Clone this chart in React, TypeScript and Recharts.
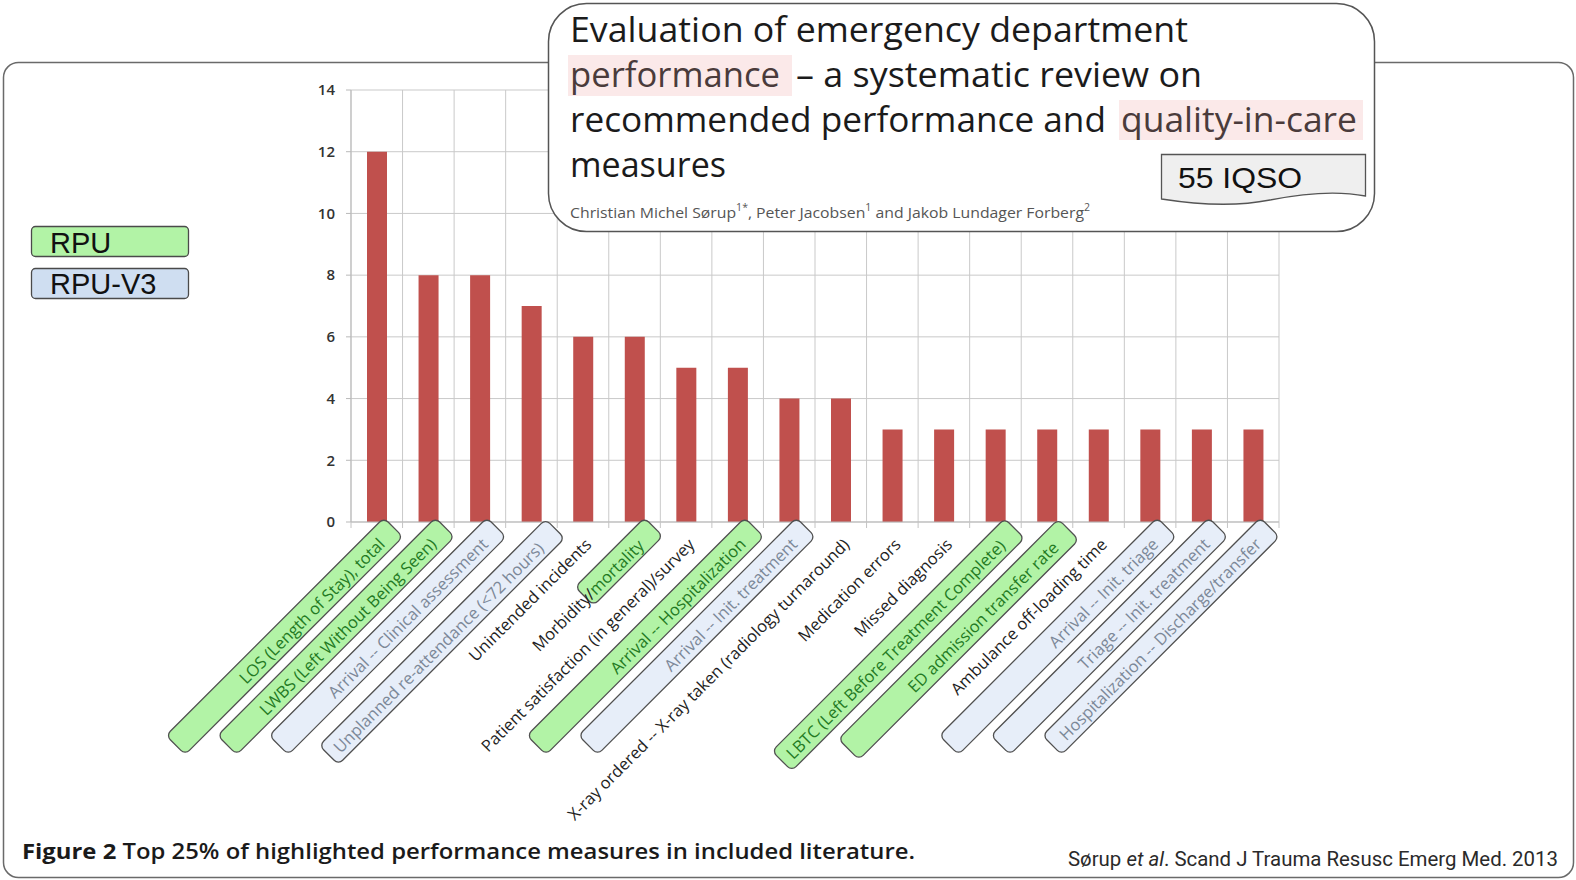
import { Bar, BarChart, CartesianGrid, XAxis, YAxis } from "recharts";

// performance measures, in the order of the bars
const measures = [
  "LOS (Length of Stay), total",
  "LWBS (Left Without Being Seen)",
  "Arrival -- Clinical assessment",
  "Unplanned re-attendance (<72 hours)",
  "Unintended incidents",
  "Morbidity/mortality",
  "Patient satisfaction (in general)/survey",
  "Arrival -- Hospitalization",
  "Arrival -- Init. treatment",
  "X-ray ordered -- X-ray taken (radiology turnaround)",
  "Medication errors",
  "Missed diagnosis",
  "LBTC (Left Before Treatment Complete)",
  "ED admission transfer rate",
  "Ambulance off-loading time",
  "Arrival -- Init. triage",
  "Triage -- Init. treatment",
  "Hospitalization -- Discharge/transfer",
];
const counts = [12, 8, 8, 7, 6, 6, 5, 5, 4, 4, 3, 3, 3, 3, 3, 3, 3, 3];
// which register highlights the measure ("" = none)
const groups = [
  "RPU", "RPU", "RPU-V3", "RPU-V3", "", "RPU", "", "RPU", "RPU-V3",
  "", "", "", "RPU", "RPU", "", "RPU-V3", "RPU-V3", "RPU-V3",
];
const yTicks = [0, 2, 4, 6, 8, 10, 12, 14];
const legendItems = ["RPU", "RPU-V3"];

const data = measures.map((m, i) => ({ measure: m, count: counts[i] }));

const W = 1576;
const H = 880;
const PLOT_LEFT = 351;
const PLOT_RIGHT = 1279;
const BAND = (PLOT_RIGHT - PLOT_LEFT) / measures.length;
const LABEL_FONT = "'Open Sans', sans-serif";

const groupStyle: Record<string, { fill: string; text: string; legend: string }> = {
  RPU: { fill: "#b2f3a6", text: "#237a23", legend: "#b2f3a6" },
  "RPU-V3": { fill: "#e7eef9", text: "#7c8898", legend: "#cfdef1" },
};

// rotated label box, in the label's own frame (u along text, v across)
const BOX = { u0: -300, u1: 8, v0: 2, v1: 29 };
const boxTweaks: Record<number, Partial<typeof BOX>> = {
  3: { u0: -308, u1: 12, v0: 8, v1: 35 },
  5: { u0: -88, u1: 10, v0: 4, v1: 30 },
  12: { u0: -320, u1: 9, v0: 4, v1: 32 },
  13: { u0: -301, u1: 10, v0: 6, v1: 35 },
};

function MeasureTick(props: any) {
  const { x, y, payload } = props;
  const i = measures.indexOf(payload.value);
  const group = groups[i];
  const st = group ? groupStyle[group] : null;
  const b = { ...BOX, ...(boxTweaks[i] || {}) };
  const vc = group ? (b.v0 + b.v1) / 2 + 1 : 17;
  const isMorbidity = i === 5;
  return (
    <g>
      <line x1={x - BAND / 2} x2={x - BAND / 2} y1={y} y2={y + 6} stroke="#c4c4c4" />
      {i === measures.length - 1 && (
        <line x1={x + BAND / 2} x2={x + BAND / 2} y1={y} y2={y + 6} stroke="#c4c4c4" />
      )}
      <g transform={`translate(${x},${y}) rotate(-45)`}>
        {st && (
          <rect
            x={b.u0}
            y={b.v0}
            width={b.u1 - b.u0}
            height={b.v1 - b.v0}
            rx={6}
            fill={st.fill}
            stroke="#505050"
            strokeWidth={1.3}
          />
        )}
        <text
          x={-10}
          y={vc}
          textAnchor="end"
          dominantBaseline="central"
          fontFamily={LABEL_FONT}
          fontSize={16.5}
          fill={st && !isMorbidity ? st.text : "#1e1e1e"}
        >
          {isMorbidity ? (
            <>
              <tspan>Morbidity/</tspan>
              <tspan fill={groupStyle.RPU.text}>mortality</tspan>
            </>
          ) : (
            payload.value
          )}
        </text>
      </g>
    </g>
  );
}

export default function App() {
  return (
    <div style={{ position: "absolute", left: 0, top: 0, width: W, height: H, background: "#fff" }}>
      <svg width={W} height={H} style={{ position: "absolute", left: 0, top: 0 }}>
        <rect x={3.5} y={62.5} width={1570} height={815} rx={15} fill="#fff" stroke="#6a6a6a" strokeWidth={1.5} />
      </svg>

      <div style={{ position: "absolute", left: 0, top: 0 }}>
        <BarChart
          width={W}
          height={H}
          data={data}
          margin={{ top: 90, right: W - PLOT_RIGHT, bottom: 8, left: PLOT_LEFT - 50 }}
        >
          <CartesianGrid
            stroke="#c9c9c9"
            verticalCoordinatesGenerator={({ offset }: any) =>
              Array.from({ length: measures.length + 1 }, (_, k) => offset.left + (k * offset.width) / measures.length)
            }
          />
          <XAxis
            dataKey="measure"
            interval={0}
            height={350}
            tickSize={0}
            tickMargin={0}
            axisLine={{ stroke: "#b9b9b9" }}
            tickLine={false}
            tick={<MeasureTick />}
          />
          <YAxis
            width={50}
            domain={[0, 14]}
            ticks={yTicks}
            tickSize={5}
            tickMargin={11}
            axisLine={{ stroke: "#b9b9b9" }}
            tickLine={{ stroke: "#b9b9b9" }}
            tick={{ fontFamily: LABEL_FONT, fontSize: 15, fill: "#333", fontWeight: 600 }}
          />
          <Bar dataKey="count" fill="#c0504d" barSize={20} isAnimationActive={false} />
        </BarChart>
      </div>

      <svg width={W} height={H} style={{ position: "absolute", left: 0, top: 0, pointerEvents: "none" }}>
        {/* paper title box */}
        <rect x={548.5} y={3.5} width={826} height={228} rx={38} fill="#fff" stroke="#555" strokeWidth={1.5} />
        <rect x={568} y={55} width={224} height={41} fill="#fbe9e9" />
        <rect x={1119} y={100} width={244} height={40} fill="#fbe9e9" />
        <g fontFamily={LABEL_FONT} fontSize={34} fill="#1b1b1b">
          <text x={570} y={42} textLength={618} lengthAdjust="spacingAndGlyphs">
            Evaluation of emergency department
          </text>
          <text x={570} y={87} textLength={210} lengthAdjust="spacingAndGlyphs" fill="#4a3b3b">
            performance
          </text>
          <text x={796} y={87} textLength={406} lengthAdjust="spacingAndGlyphs">
            – a systematic review on
          </text>
          <text x={570} y={132} textLength={536} lengthAdjust="spacingAndGlyphs">
            recommended performance and
          </text>
          <text x={1121} y={132} textLength={236} lengthAdjust="spacingAndGlyphs" fill="#4a3b3b">
            quality-in-care
          </text>
          <text x={570} y={177} textLength={156} lengthAdjust="spacingAndGlyphs">
            measures
          </text>
        </g>
        <text x={570} y={218} fontFamily={LABEL_FONT} fontSize={15} fill="#555" textLength={520} lengthAdjust="spacingAndGlyphs">
          Christian Michel Sørup
          <tspan fontSize={10} dy={-7}>1*</tspan>
          <tspan dy={7}>, Peter Jacobsen</tspan>
          <tspan fontSize={10} dy={-7}>1</tspan>
          <tspan dy={7}> and Jakob Lundager Forberg</tspan>
          <tspan fontSize={10} dy={-7}>2</tspan>
        </text>
        <path
          d="M1161.5,154.5 H1365.5 V196 C1335,190 1300,194 1270,200 C1235,207 1200,205 1161.5,199 Z"
          fill="#efefef"
          stroke="#555"
          strokeWidth={1.3}
        />
        <text x={1178} y={188} fontFamily="'Liberation Sans', Arial, sans-serif" fontSize={30} fill="#111" textLength={124} lengthAdjust="spacingAndGlyphs">
          55 IQSO
        </text>

        {/* register legend */}
        {legendItems.map((g, k) => (
          <g key={g}>
            <rect
              x={31.5}
              y={226.5 + k * 42}
              width={157}
              height={30}
              rx={4}
              fill={groupStyle[g].legend}
              stroke="#4a4a4a"
              strokeWidth={1.3}
            />
            <text x={50} y={253 + k * 41} fontFamily="'Liberation Sans', Arial, sans-serif" fontSize={29} fill="#111">
              {g}
            </text>
          </g>
        ))}

        {/* caption */}
        <text x={22} y={859} fontFamily={LABEL_FONT} fontSize={22} fontWeight={700} fill="#1a1a1a" textLength={893} lengthAdjust="spacingAndGlyphs">
          Figure 2 <tspan fontWeight={600}>Top 25% of highlighted performance measures in included literature.</tspan>
        </text>
        <text x={1068} y={866} fontFamily="Roboto, sans-serif" fontSize={20} fill="#2a2a2a" textLength={490} lengthAdjust="spacingAndGlyphs">
          Sørup <tspan fontStyle="italic">et al</tspan>. Scand J Trauma Resusc Emerg Med. 2013
        </text>
      </svg>
    </div>
  );
}
